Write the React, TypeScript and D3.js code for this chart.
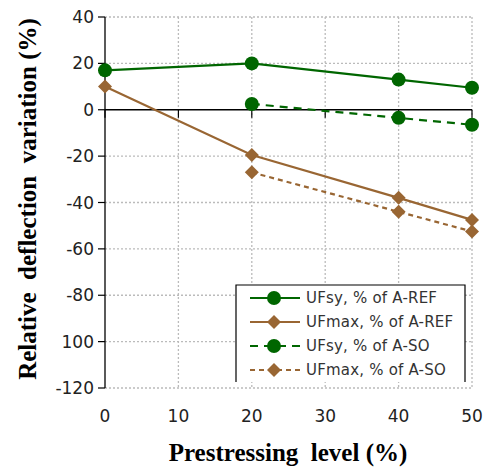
import React from "react";
import * as d3 from "d3";

const xValues = [0, 20, 40, 50];
const ufsyRef = [17, 20, 13, 9.5];
const ufmaxRef = [10, -19.5, -38, -47.5];
const xValuesSO = [20, 40, 50];
const ufsySO = [2.5, -3.5, -6.5];
const ufmaxSO = [-27, -44, -52.5];
const xTicks = [0, 10, 20, 30, 40, 50];
const yTicks = [40, 20, 0, -20, -40, -60, -80, -100, -120];
const yTickLabels = ["40", "20", "0", "-20", "-40", "-60", "-80", "100", "-120"];
const legendLabels = ["UFsy, % of A-REF", "UFmax, % of A-REF", "UFsy, % of A-SO", "UFmax, % of A-SO"];

const GREEN = "#006600";
const BROWN = "#996633";

export default function App() {
  const W = 497, H = 468;
  const x = d3.scaleLinear().domain([0, 50]).range([105, 472]);
  const y = d3.scaleLinear().domain([-120, 40]).range([388, 17]);
  const line = d3.line<[number, number]>().x(d => x(d[0])).y(d => y(d[1]));

  const series = [
    { xs: xValues, ys: ufsyRef, color: GREEN, dash: undefined, marker: "circle" },
    { xs: xValues, ys: ufmaxRef, color: BROWN, dash: undefined, marker: "diamond" },
    { xs: xValuesSO, ys: ufsySO, color: GREEN, dash: "8,6", marker: "circle" },
    { xs: xValuesSO, ys: ufmaxSO, color: BROWN, dash: "5,4", marker: "diamond" },
  ];

  const marker = (m: string, cx: number, cy: number, color: string, key: any) =>
    m === "circle" ? (
      <circle key={key} cx={cx} cy={cy} r={7} fill={color} />
    ) : (
      <path key={key} d={`M${cx},${cy - 7}L${cx + 7},${cy}L${cx},${cy + 7}L${cx - 7},${cy}Z`} fill={color} />
    );

  const lx0 = 236, ly0 = 285, lx1 = 465, ly1 = 382;
  const rowY = [298, 322, 346, 370];

  return (
    <svg width={W} height={H} style={{ position: "absolute", left: 0, top: 0, background: "#fff" }}>
      <rect width={W} height={H} fill="#fff" />
      {/* grid */}
      {xTicks.filter(t => t !== 0).map(t => (
        <line key={"gx" + t} x1={x(t)} x2={x(t)} y1={y(40)} y2={y(-120)} stroke="#bbb" strokeWidth={1.3} strokeDasharray="2,2" />
      ))}
      {yTicks.filter(t => t !== 0).map(t => (
        <line key={"gy" + t} x1={x(0)} x2={x(50)} y1={y(t)} y2={y(t)} stroke="#bbb" strokeWidth={1.3} strokeDasharray="2,2" />
      ))}
      {/* y axis */}
      <line x1={x(0)} x2={x(0)} y1={y(40)} y2={y(-120)} stroke="#000" strokeWidth={1.3} />
      {yTicks.map((t, i) => (
        <g key={"yt" + t}>
          <line x1={x(0) - 7} x2={x(0)} y1={y(t)} y2={y(t)} stroke="#000" strokeWidth={1.2} />
          <text x={x(0) - 11} y={y(t)} dy="0.36em" textAnchor="end" fontFamily="DejaVu Sans" fontSize={17} fill="#222">
            {yTickLabels[i]}
          </text>
        </g>
      ))}
      {/* x axis at 0 */}
      <line x1={x(0)} x2={x(50)} y1={y(0)} y2={y(0)} stroke="#000" strokeWidth={1.3} />
      {xTicks.map(t => (
        <line key={"xt" + t} x1={x(t)} x2={x(t)} y1={y(0)} y2={y(0) + 8} stroke="#000" strokeWidth={1.2} />
      ))}
      {xTicks.map(t => (
        <text key={"xl" + t} x={x(t)} y={416} dy="0.36em" textAnchor="middle" fontFamily="DejaVu Sans" fontSize={17} fill="#222">
          {t}
        </text>
      ))}
      {/* series */}
      {series.map((s, i) => (
        <g key={"s" + i}>
          <path d={line(s.xs.map((v, j) => [v, s.ys[j]] as [number, number])) || ""} fill="none" stroke={s.color} strokeWidth={2.2} strokeDasharray={s.dash} />
          {s.xs.map((v, j) => marker(s.marker, x(v), y(s.ys[j]), s.color, j))}
        </g>
      ))}
      {/* legend */}
      <rect x={lx0} y={ly0} width={lx1 - lx0} height={ly1 - ly0} fill="#fff" />
      <path d={`M${lx0},${ly1}V${ly0}H${lx1}V${ly1}`} fill="none" stroke="#000" strokeWidth={1.2} />
      {series.map((s, i) => (
        <g key={"lg" + i}>
          <line x1={250} x2={300} y1={rowY[i]} y2={rowY[i]} stroke={s.color} strokeWidth={2.2} strokeDasharray={s.dash} />
          {marker(s.marker, 274, rowY[i], s.color, "m")}
          <text x={306} y={rowY[i]} dy="0.36em" fontFamily="DejaVu Sans" fontSize={15} letterSpacing={0.2} fill="#333">
            {legendLabels[i]}
          </text>
        </g>
      ))}
      {/* titles */}
      <text x={288} y={452} dy="0.36em" textAnchor="middle" fontFamily="Liberation Serif" fontWeight="bold" fontSize={25} fill="#000" style={{ whiteSpace: "pre" }}>
        {"Prestressing  level (%)"}
      </text>
      <text transform={`translate(27,199) rotate(-90)`} dy="0.36em" textAnchor="middle" fontFamily="Liberation Serif" fontWeight="bold" fontSize={25} fill="#000" style={{ whiteSpace: "pre" }}>
        {"Relative  deflection  variation (%)"}
      </text>
    </svg>
  );
}
